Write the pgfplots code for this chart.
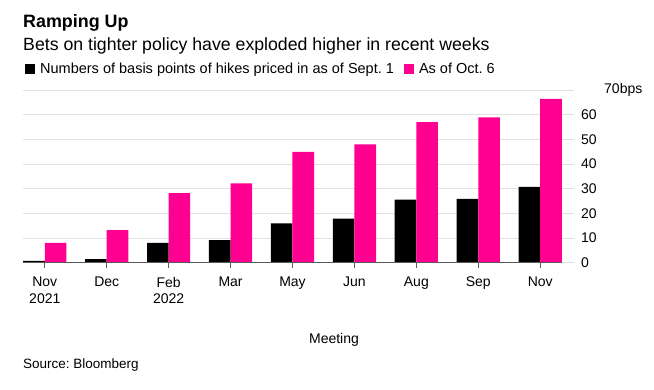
\documentclass[border=0pt]{standalone}
\usepackage{fontspec}
\setmainfont{Liberation Sans}
\usepackage{pgfplots}
\pgfplotsset{compat=1.18}
\definecolor{bbpink}{RGB}{255,0,144}
\definecolor{gridgray}{RGB}{226,226,226}
\definecolor{basegray}{RGB}{90,90,90}
\frenchspacing
\begin{document}
\begin{tikzpicture}[x=1pt,y=1pt]
\useasboundingbox (0,0) rectangle (654,-389);
\coordinate (O) at (23,-262.7);
\node[anchor=base west, inner sep=0, font=\bfseries\fontsize{17.9}{21}\selectfont] at (23,-27.5) {Ramping Up};
\node[anchor=base west, inner sep=0, font=\fontsize{17.7}{20}\selectfont] at (23,-50) {Bets on tighter policy have exploded higher in recent weeks};
\begin{axis}[
  at={(O)}, anchor=south west,
  scale only axis, width=551pt, height=172.7pt,
  xmin=-0.352, xmax=8.546, ymin=0, ymax=70,
  ybar, bar width=21.6pt,
  axis line style={draw=none},
  ytick={0,10,...,70},
  yticklabels={0,10,20,30,40,50,60,\hspace*{23pt}70bps},
  yticklabel pos=right,
  ytick style={draw=none},
  yticklabel style={inner sep=0pt, xshift=2pt, font=\fontsize{14}{16}\selectfont},
  ymajorgrids, grid style={gridgray, line width=0.9pt},
  xtick={0,...,8},
  xtick pos=bottom,
  xticklabels={{Nov\\2021},Dec,{Feb\\2022},Mar,May,Jun,Aug,Sep,Nov},
  xtick style={basegray, line width=0.9pt},
  tick align=outside, major tick length=5pt,
  xticklabel style={align=center, anchor=north, inner sep=0pt, yshift=-9pt, font=\fontsize{14}{16.5}\selectfont},
  /pgf/number format/assume math mode=true,
  legend image code/.code={\fill[#1,draw=none] (0pt,-5pt) rectangle (10pt,5pt);},
  legend style={at={(axis description cs:0.0036,1.119)}, anchor=west, draw=none, fill=none,
    inner sep=0pt, font=\fontsize{14.5}{16}\selectfont,
    /tikz/every odd column/.append style={column sep=3pt},
    /tikz/every even column/.append style={column sep=8pt}},
  legend columns=2,
  clip=false,
]
\addplot[fill=black, draw=none, bar shift=-10.8pt] coordinates {
  (0,0.7) (1,1.5) (2,8.0) (3,9.2) (4,15.9) (5,17.9) (6,25.6) (7,25.9) (8,30.7)};
\addplot[fill=bbpink, draw=none, bar shift=10.8pt] coordinates {
  (0,8.0) (1,13.2) (2,28.2) (3,32.2) (4,44.9) (5,48.0) (6,57.0) (7,58.9) (8,66.4)};
\legend{Numbers of basis points of hikes priced in as of Sept. 1, As of Oct. 6}
\draw[basegray, line width=1.1pt] (axis cs:-0.352,0) -- (axis cs:8.36,0);
\end{axis}
\node[anchor=base, inner sep=0, font=\fontsize{14}{16}\selectfont] at (334,-343.3) {Meeting};
\node[anchor=base west, inner sep=0, font=\fontsize{13.5}{16}\selectfont] at (23,-368.3) {Source: Bloomberg};
\end{tikzpicture}
\end{document}
